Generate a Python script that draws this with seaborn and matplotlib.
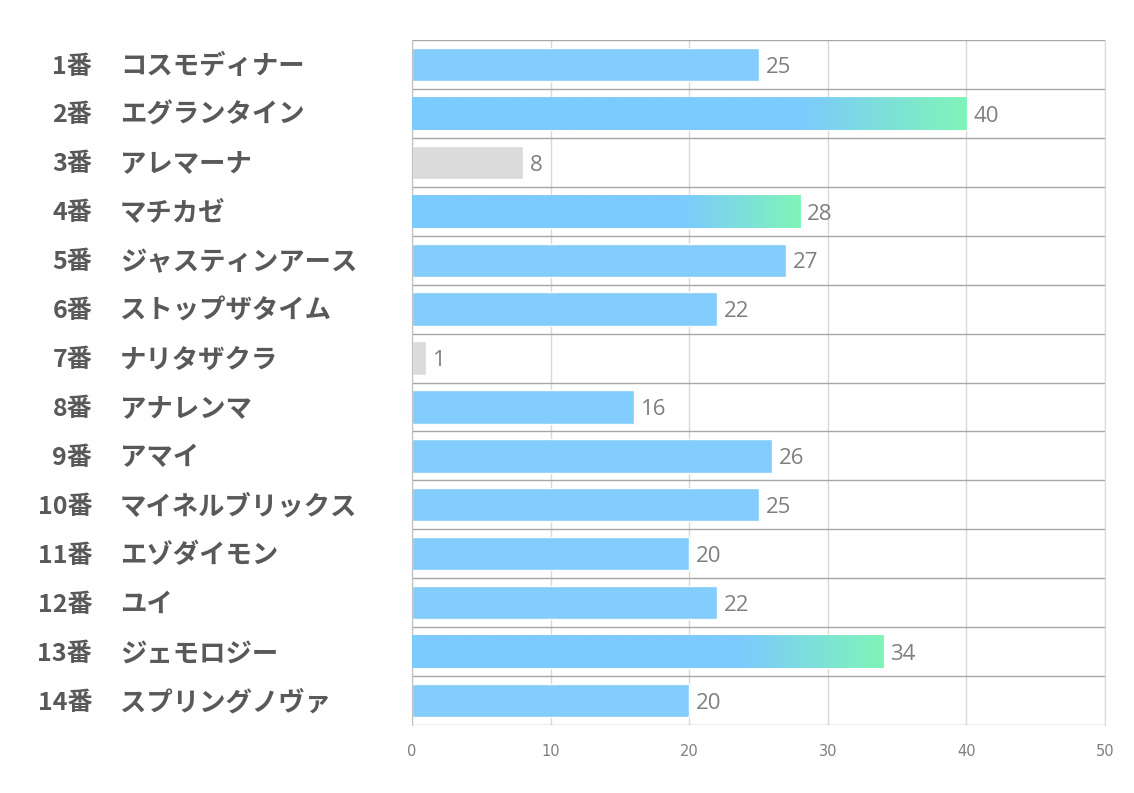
import numpy as np
import pandas as pd
import matplotlib
matplotlib.use("Agg")
import matplotlib.pyplot as plt
import matplotlib.transforms as mtransforms
from matplotlib.colors import to_rgb
import seaborn as sns

# Chart data
numbers = ["1番", "2番", "3番", "4番", "5番", "6番", "7番",
           "8番", "9番", "10番", "11番", "12番", "13番", "14番"]
names = ["コスモディナー", "エグランタイン", "アレマーナ", "マチカゼ",
         "ジャスティンアース", "ストップザタイム", "ナリタザクラ", "アナレンマ",
         "アマイ", "マイネルブリックス", "エゾダイモン", "ユイ",
         "ジェモロジー", "スプリングノヴァ"]
values = [25, 40, 8, 28, 27, 22, 1, 16, 26, 25, 20, 22, 34, 20]
groups = ["normal", "top", "low", "top", "normal", "normal", "low",
          "normal", "normal", "normal", "normal", "normal", "top", "normal"]
x_ticks = [0, 10, 20, 30, 40, 50]

df = pd.DataFrame({"name": names, "value": values, "group": groups})

blue = "#7ccbfd"
green = "#7ff7b5"
gray = "#d9d9d9"
palette = {"normal": blue, "top": blue, "low": gray}

sns.set_style("white")
plt.rcParams["font.family"] = ["Noto Sans CJK JP", "DejaVu Sans"]

fig = plt.figure(figsize=(11.34, 7.93), dpi=100)
ax = fig.add_axes([412 / 1134, 1 - 725 / 793, 693 / 1134, 685 / 793])

sns.barplot(data=df, x="value", y="name", hue="group", palette=palette,
            orient="h", width=0.68, dodge=False, legend=False, saturation=1,
            alpha=0.95, ax=ax, zorder=2)

# Gradient overlay for the top three bars
for bar in ax.patches:
    idx = int(round(bar.get_y() + bar.get_height() / 2))
    if idx < 0 or idx >= len(groups) or groups[idx] != "top":
        continue
    x0 = bar.get_x()
    x1 = x0 + bar.get_width()
    t = np.linspace(0, 1, 256)
    frac = np.clip((t - 0.70) / 0.30, 0, 1)
    c0 = np.array(to_rgb(blue))
    c1 = np.array(to_rgb(green))
    img = (c0[None, :] * (1 - frac[:, None]) + c1[None, :] * frac[:, None])[None, :, :]
    im = ax.imshow(img, extent=[x0, x1, bar.get_y() + bar.get_height(), bar.get_y()],
                   aspect="auto", zorder=3, alpha=0.95, interpolation="bilinear")
    im.set_clip_path(bar)

# Value labels
for i, v in enumerate(values):
    ax.annotate(str(v), xy=(v, i), xytext=(5, -2), textcoords="offset points",
                va="center", ha="left", fontsize=16, color="#7f7f7f",
                family=["Open Sans", "DejaVu Sans"], zorder=5)

# Row labels: number right-aligned, name left-aligned
trans = mtransforms.blended_transform_factory(ax.transAxes, ax.transData)
for i, (num, nm) in enumerate(zip(numbers, names)):
    ax.annotate(num, xy=((92 - 412) / 693, i), xycoords=trans,
                xytext=(0, -1.5), textcoords="offset points", ha="right", va="center",
                fontsize=18, fontweight="bold", color="#595959", annotation_clip=False)
    ax.annotate(nm, xy=((120 - 412) / 693, i), xycoords=trans,
                xytext=(0, -1.5), textcoords="offset points", ha="left", va="center",
                fontsize=19, fontweight="bold", color="#595959", annotation_clip=False)

ax.set_xlim(0, 50)
ax.set_ylim(len(names) - 0.5, -0.5)
ax.set_xticks(x_ticks)
ax.set_xticklabels([str(t) for t in x_ticks], fontsize=10.5, color="#7f7f7f",
                   family=["DejaVu Sans"])
ax.set_yticks([])
ax.set_yticks(np.arange(-0.5, len(names), 1.0), minor=True)
ax.tick_params(axis="x", length=0, pad=14)
ax.tick_params(axis="y", which="both", length=0, labelleft=False)
ax.grid(axis="x", which="major", color="#d9d9d9", linewidth=1.0, zorder=0)
ax.grid(axis="y", which="minor", color="#a6a6a6", linewidth=1.0, zorder=1)
ax.set_axisbelow(True)
for s in ["top", "bottom"]:
    ax.spines[s].set_visible(False)
ax.spines["left"].set_color("#bfbfbf")
ax.spines["right"].set_color("#d9d9d9")
ax.set_xlabel("")
ax.set_ylabel("")

fig.savefig("out.png", dpi=100)
